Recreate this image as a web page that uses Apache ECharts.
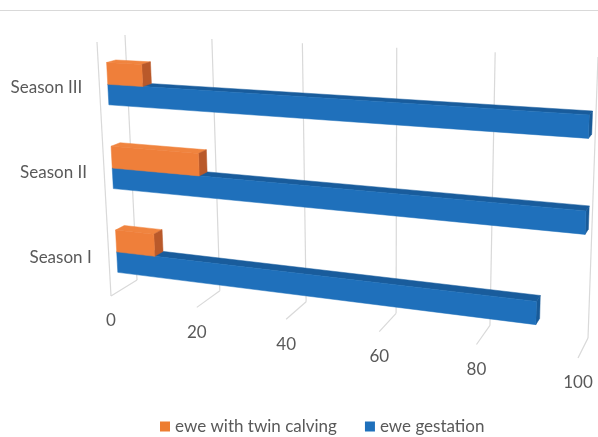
<!DOCTYPE html>
<html>
<head>
<meta charset="utf-8">
<script src="https://cdn.jsdelivr.net/npm/echarts@6/dist/echarts.min.js"></script>
<style>
  html, body { margin: 0; padding: 0; background: #ffffff; }
  #chart { width: 598px; height: 437px; }
</style>
</head>
<body>
<div id="chart"></div>
<script>
// ---- data ----
const categories = ['Season I', 'Season II', 'Season III'];
const twinCalving = [9, 20, 8];
const gestation = [91, 100, 100];
const valueTicks = [0, 20, 40, 60, 80, 100];
const seriesNames = ['ewe with twin calving', 'ewe gestation'];

// ---- 3D plot box (screen corners of the perspective box) ----
// F = front plane, B = back plane; first digit: value end (0/1), second: height (0 floor / 1 top)
const BOX = {
  F00: [111, 296], F10: [578, 358], F01: [97, 42], F11: [588, 67],
  B00: [137, 280], B10: [588, 338], B01: [125, 35], B11: [598, 57]
};
const FORESHORTEN = 0.9;        // perspective squeeze along the value axis
const BAR_DEPTH = [0.3, 0.63];  // bar slab position inside the box depth
const TEXT = '#595959';
const GRID_LINE = '#d9d9d9';
const FONT = 'Lato, "Open Sans", sans-serif';

function lerp(a, b, k) { return [a[0] + (b[0] - a[0]) * k, a[1] + (b[1] - a[1]) * k]; }

// t: 0..1 along value axis, h: 0..1 height, z: 0 (front) .. 1 (back)
function project(t, h, z) {
  const u = FORESHORTEN * t / (1 - (1 - FORESHORTEN) * t);
  const bottom = lerp(lerp(BOX.F00, BOX.F10, u), lerp(BOX.B00, BOX.B10, u), z);
  const top = lerp(lerp(BOX.F01, BOX.F11, u), lerp(BOX.B01, BOX.B11, u), z);
  return lerp(bottom, top, h);
}

function toUnit(cs, pt) {
  return [(pt[0] - cs.x) / cs.width, (cs.y + cs.height - pt[1]) / cs.height];
}

// bar slab: upper = true places the slab above the category centre
function barRenderer(upper, thickness, colors) {
  return function (params, api) {
    const cs = params.coordSys;
    const ci = api.value(1);
    const end = toUnit(cs, api.coord([api.value(0), ci]));
    const start = toUnit(cs, api.coord([0, ci]));
    const band = api.size([0, 1])[1] / cs.height;
    const split = end[1] - 0.03 * band;
    const th = thickness * band;
    const h0 = upper ? split : split - th;
    const h1 = h0 + th;
    const tS = start[0], tE = end[0];
    const z0 = BAR_DEPTH[0], z1 = BAR_DEPTH[1];
    const P = project;
    const poly = (pts, fill) => ({
      type: 'polygon', shape: { points: pts },
      style: { fill: fill, stroke: fill, lineWidth: 0.5 }
    });
    return {
      type: 'group',
      children: [
        poly([P(tS, h1, z0), P(tE, h1, z0), P(tE, h1, z1), P(tS, h1, z1)], colors.top),
        poly([P(tE, h0, z0), P(tE, h0, z1), P(tE, h1, z1), P(tE, h1, z0)], colors.side),
        poly([P(tS, h0, z0), P(tE, h0, z0), P(tE, h1, z0), P(tS, h1, z0)], colors.front)
      ]
    };
  };
}

// walls: gridlines on the back wall and floor, plus the value labels
function wallRenderer(params, api) {
  const cs = params.coordSys;
  const v = api.value(0);
  const t = toUnit(cs, api.coord([v, 0]))[0];
  const line = (a, b) => ({
    type: 'line', shape: { x1: a[0], y1: a[1], x2: b[0], y2: b[1] },
    style: { stroke: GRID_LINE, lineWidth: 1.2 }
  });
  const children = [
    line(project(t, 0, 1), project(t, 1, 1)),
    line(project(t, 0, 1), project(t, 0, 0))
  ];
  if (params.dataIndex === 0) children.push(line(project(t, 0, 0), project(t, 1, 0)));
  const lp = project(t, 0, 0);
  children.push({
    type: 'text',
    style: {
      text: String(v), x: lp[0], y: lp[1] + 25, align: 'center', verticalAlign: 'middle',
      fill: TEXT, font: '17px ' + FONT
    }
  });
  return { type: 'group', children: children };
}

function categoryLabelRenderer(params, api) {
  const cs = params.coordSys;
  const ci = api.value(1);
  const h = toUnit(cs, api.coord([0, ci]))[1];
  const p = project(0, h, 0);
  return {
    type: 'text',
    style: {
      text: categories[ci], x: p[0] - 17, y: p[1] + 3.5, align: 'right', verticalAlign: 'middle',
      fill: TEXT, font: '17px ' + FONT
    }
  };
}

const chart = echarts.init(document.getElementById('chart'), null, { renderer: 'canvas' });
chart.setOption({
  animation: false,
  backgroundColor: '#ffffff',
  grid: { left: 100, right: 20, top: 40, bottom: 100 },
  xAxis: { type: 'value', min: 0, max: 100, interval: 20, show: false },
  yAxis: { type: 'category', data: categories, show: false },
  graphic: [{
    type: 'line', shape: { x1: 0, y1: 10.5, x2: 598, y2: 10.5 },
    style: { stroke: '#d9d9d9', lineWidth: 1 }
  }],
  legend: {
    data: seriesNames,
    left: 155, top: 413,
    icon: 'rect', itemWidth: 10, itemHeight: 10, itemGap: 28,
    textStyle: { color: TEXT, fontSize: 17, fontFamily: FONT }
  },
  series: [
    {
      type: 'custom', name: 'walls', z: 1, silent: true, clip: false,
      data: valueTicks.map(v => [v, 0]),
      encode: { x: 0, y: 1 },
      renderItem: wallRenderer
    },
    {
      type: 'custom', name: 'categoryLabels', z: 1, silent: true, clip: false,
      data: categories.map((c, i) => [0, i]),
      encode: { x: 0, y: 1 },
      renderItem: categoryLabelRenderer
    },
    {
      type: 'custom', name: seriesNames[1], z: 2, clip: false,
      itemStyle: { color: '#1f70bb' },
      data: gestation.map((v, i) => [v, i]),
      encode: { x: 0, y: 1 },
      renderItem: barRenderer(false, 0.245, { front: '#1f70bb', top: '#195c9c', side: '#185a98' })
    },
    {
      type: 'custom', name: seriesNames[0], z: 3, clip: false,
      itemStyle: { color: '#ed7d31' },
      data: twinCalving.map((v, i) => [v, i]),
      encode: { x: 0, y: 1 },
      renderItem: barRenderer(true, 0.26, { front: '#ef7f3a', top: '#f0843f', side: '#b9592a' })
    }
  ]
});
</script>
</body>
</html>
